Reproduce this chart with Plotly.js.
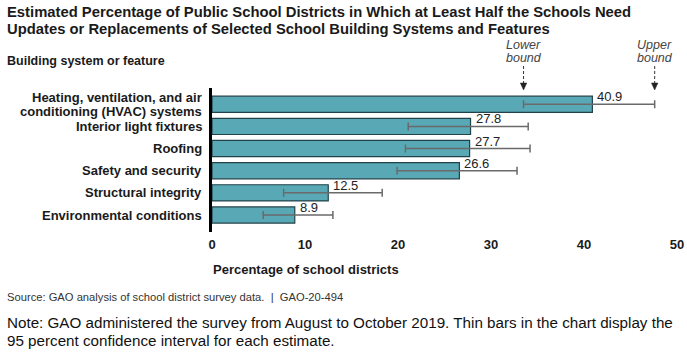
<!DOCTYPE html>
<html>
<head>
<meta charset="utf-8">
<script src="https://cdn.plot.ly/plotly-3.0.1.min.js"></script>
<style>html,body{margin:0;padding:0;background:#fff;}#chart{width:687px;height:352px;}</style>
</head>
<body>
<div id="chart"></div>
<script>
const categories = ["Heating, ventilation, and air conditioning (HVAC) systems", "Interior light fixtures", "Roofing", "Safety and security", "Structural integrity", "Environmental conditions"];
const categoryLines = [["Heating, ventilation, and air", "conditioning (HVAC) systems"], ["Interior light fixtures"], ["Roofing"], ["Safety and security"], ["Structural integrity"], ["Environmental conditions"]];
const values = [40.9, 27.8, 27.7, 26.6, 12.5, 8.9];
const lowerBounds = [33.5, 21.1, 20.8, 19.9, 7.7, 5.5];
const upperBounds = [47.6, 34.0, 34.2, 32.8, 18.3, 13.0];
const xTicks = [0, 10, 20, 30, 40, 50];

const W = 687, H = 352;
const M = {l: 212, r: 10, t: 88, b: 120};
const PW = W - M.l - M.r, PH = H - M.t - M.b;
const px = x => (x - M.l) / PW;
const py = y => (H - M.b - y) / PH;

const font = "Arial, 'Liberation Sans', sans-serif";

const trace = {
  type: 'bar', orientation: 'h',
  x: values, y: categories,
  width: 0.73,
  marker: {color: '#58a9b5', line: {color: '#22424a', width: 1.2}},
  error_x: {
    type: 'data', symmetric: false,
    array: values.map((v, i) => upperBounds[i] - v),
    arrayminus: values.map((v, i) => v - lowerBounds[i]),
    color: '#6a6a6a', thickness: 1.5, width: 4
  },
  hoverinfo: 'none'
};

const annotations = [];
values.forEach((v, i) => {
  annotations.push({x: v, y: categories[i], xref: 'x', yref: 'y', text: v.toFixed(1),
    showarrow: false, xanchor: 'left', yanchor: 'bottom', xshift: 3, yshift: -2,
    font: {family: font, size: 13, color: '#222'}});
});
// category (tick) labels, right aligned to the axis, with tight line spacing
categories.forEach((c, i) => {
  const lines = categoryLines[i];
  lines.forEach((ln, j) => {
    annotations.push({x: 0, y: c, xref: 'paper', yref: 'y', text: '<b>' + ln + '</b>', showarrow: false,
      xanchor: 'right', yanchor: 'middle', xshift: -8, yshift: (lines.length - 1) * 6.75 - j * 13.5,
      font: {family: font, size: 13, color: '#1a1a1a'}});
  });
});
const txt = (x, y, text, size, opts) => Object.assign({x: px(x), y: py(y), xref: 'paper', yref: 'paper', text: text,
  showarrow: false, xanchor: 'left', yanchor: 'middle', font: {family: font, size: size, color: '#1a1a1a'}}, opts || {});

annotations.push(txt(5, 12, '<b>Estimated Percentage of Public School Districts in Which at Least Half the Schools Need</b>', 14.8));
annotations.push(txt(5, 29, '<b>Updates or Replacements of Selected School Building Systems and Features</b>', 14.8));
annotations.push(txt(5, 61, '<b>Building system or feature</b>', 12.5));
annotations.push(txt(211, 269, '<b>Percentage of school districts</b>', 13));
annotations.push(txt(5, 297, 'Source: GAO analysis of school district survey data.  |  GAO-20-494', 11.2, {font: {family: font, size: 11.2, color: '#333'}}));
annotations.push(txt(5, 322, 'Note: GAO administered the survey from August to October 2019. Thin bars in the chart display the', 15.2, {font: {family: font, size: 15.2, color: '#111'}}));
annotations.push(txt(5, 340, '95 percent confidence interval for each estimate.', 15.2, {font: {family: font, size: 15.2, color: '#111'}}));

const boundX = [lowerBounds[0], upperBounds[0]];
const boundLbl = [['Lower', 'bound'], ['Upper', 'bound']];
const shapes = [];
boundX.forEach((bx, k) => {
  annotations.push({x: bx, y: py(45), xref: 'x', yref: 'paper', text: '<i>' + boundLbl[k][0] + '</i>', showarrow: false,
    xanchor: 'center', yanchor: 'middle', font: {family: font, size: 12.5, color: '#444'}});
  annotations.push({x: bx, y: py(58), xref: 'x', yref: 'paper', text: '<i>' + boundLbl[k][1] + '</i>', showarrow: false,
    xanchor: 'center', yanchor: 'middle', font: {family: font, size: 12.5, color: '#444'}});
  shapes.push({type: 'line', xref: 'x', yref: 'paper', x0: bx, x1: bx, y0: py(66), y1: py(84),
    line: {color: '#333', width: 1, dash: '3px,2px'}});
  const hw = 3.2 * 50 / PW;
  shapes.push({type: 'path', xref: 'x', yref: 'paper',
    path: `M ${bx - hw},${py(83)} L ${bx + hw},${py(83)} L ${bx},${py(90)} Z`,
    fillcolor: '#222', line: {color: '#222', width: 0.5}});
});

const layout = {
  width: W, height: H,
  margin: M,
  paper_bgcolor: '#fff', plot_bgcolor: '#fff',
  showlegend: false,
  xaxis: {range: [0, 50], tickvals: xTicks, ticktext: xTicks.map(String), showgrid: false, zeroline: false,
    showline: false, ticks: '', ticklabelstandoff: 3,
    tickfont: {family: font, size: 13, color: '#1a1a1a', weight: 'bold'}},
  yaxis: {categoryorder: 'array', categoryarray: categories, autorange: 'reversed', showgrid: false, zeroline: false,
    showline: true, linecolor: '#000', linewidth: 3.5, ticks: '', showticklabels: false},
  annotations: annotations,
  shapes: shapes
};

Plotly.newPlot('chart', [trace], layout, {displayModeBar: false, staticPlot: true});
</script>
</body>
</html>
